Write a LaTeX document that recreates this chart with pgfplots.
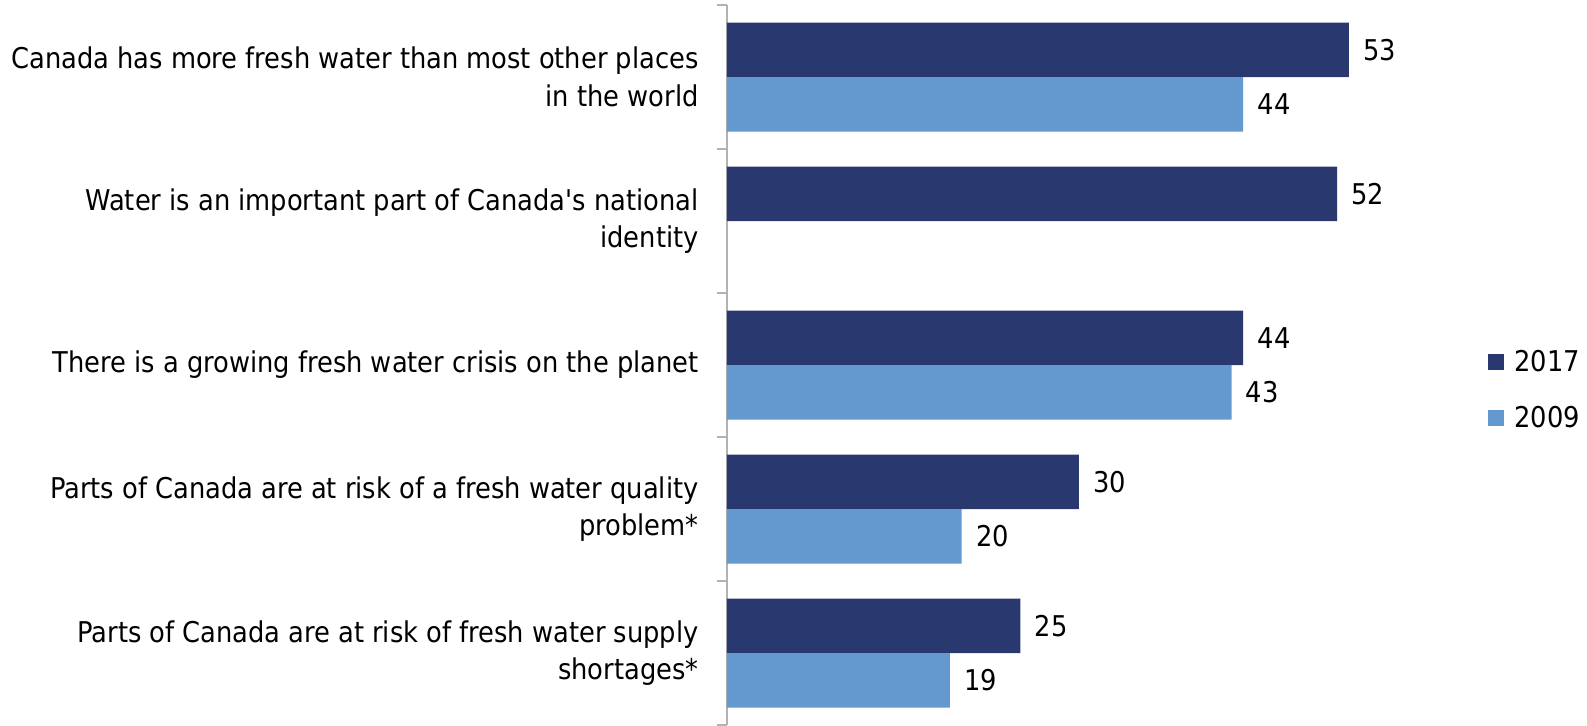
\documentclass[border=0pt]{standalone}
\usepackage{pgfplots}
\pgfplotsset{compat=1.18}
\usepackage{fontspec}
\setmainfont{DejaVu Sans Condensed}
\definecolor{dark}{RGB}{42,56,112}
\definecolor{light}{RGB}{99,153,207}
\newcommand{\lblfont}{\fontsize{14.3}{18.75}\selectfont}
\begin{document}
\begin{tikzpicture}
\begin{axis}[name=ax, at={(0,0)}, anchor=south west,
 scale only axis, width=352pt, height=360pt,
 xmin=0, xmax=60, ymin=-0.5, ymax=4.5, y dir=reverse,
 xbar, bar width=27.25pt,
 axis x line=none, axis y line*=left,
 y axis line style={draw=black!30, line width=1pt},
 ytick={0,1,2,3,4},
 yticklabels={{Canada has more fresh water than most other places\\in the world},
   {Water is an important part of Canada\textquotesingle s national\\identity},
   {There is a growing fresh water crisis on the planet},
   {Parts of Canada are at risk of a fresh water quality\\problem*},
   {Parts of Canada are at risk of fresh water supply\\shortages*}},
 major tick length=0pt,
 minor ytick={-0.5,0.5,1.5,2.5,3.5,4.5},
 minor tick length=5pt,
 tick align=outside,
 tick style={draw=black!30, line width=1pt},
 yticklabel style={align=right, font=\lblfont, inner sep=0pt, xshift=-14pt},
 point meta=x,
 /pgf/number format/assume math mode=true,
 nodes near coords,
 nodes near coords style={font=\lblfont, anchor=west, inner sep=0pt, xshift=7pt, text=black},
 clip=false,
 legend style={at={(1.081,0.465)}, anchor=west, draw=none, fill=none, inner sep=0pt,
   row sep=12pt, font=\lblfont, /tikz/every odd column/.append style={column sep=3pt}},
 legend cell align=left,
 legend image code/.code={\fill[#1] (0pt,-4pt) rectangle (8pt,4pt);},
]
\addplot[fill=dark, draw=none, bar shift=13.625pt] coordinates {(53,0) (52,1) (44,2) (30,3) (25,4)};
\addplot[fill=light, draw=none, bar shift=-13.625pt] coordinates {(44,0) (43,2) (20,3) (19,4)};
\legend{2017,2009}
\end{axis}
\pgfresetboundingbox
\path (ax.south west) ++(-363.5pt,0pt) rectangle ++(793.5pt,362.5pt);
\end{tikzpicture}
\end{document}
